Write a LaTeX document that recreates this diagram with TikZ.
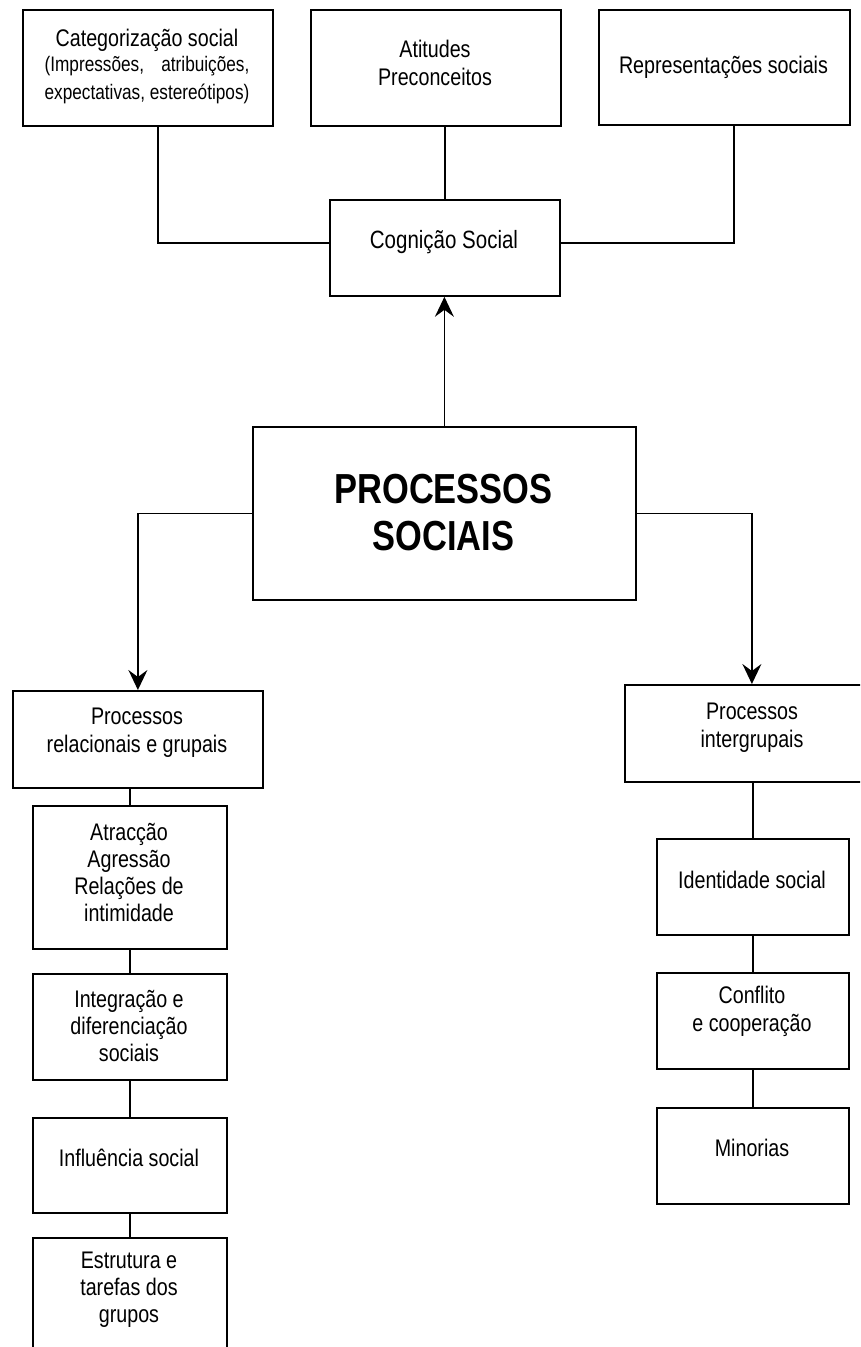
\documentclass[tikz,border=0pt]{standalone}
\usepackage{fontspec}
\usepackage{calc}
\setmainfont{Liberation Sans}[FakeStretch=0.82]
\usetikzlibrary{arrows.meta}
\tikzset{
  box/.style={draw, line width=1.8pt, inner sep=0pt, anchor=north west},
  txt/.style={align=center, inner sep=0pt, font=\fontsize{24}{28}\selectfont},
  link/.style={line width=1.4pt},
  arr/.style={line width=1.4pt, -{Stealth[length=20pt,width=19pt,inset=7pt]}}
}
\begin{document}
\begin{tikzpicture}[x=1pt,y=-1pt]
\useasboundingbox (0,0) rectangle (860,1347);
\clip (0,0) rectangle (860,1347);
% boxes
\node[box, minimum width=250pt, minimum height=116pt] (cat) at (22,9) {};
\node[box, minimum width=250pt, minimum height=116pt] (ati) at (310,9) {};
\node[box, minimum width=251pt, minimum height=115pt] (rep) at (598,9) {};
\node[box, minimum width=230pt, minimum height=96pt] (cog) at (329,199) {};
\node[box, minimum width=383pt, minimum height=173pt] (proc) at (252,426) {};
\node[box, minimum width=250pt, minimum height=97pt] (rel) at (12,690) {};
\node[box, minimum width=194pt, minimum height=143pt] (atr) at (32,805) {};
\node[box, minimum width=194pt, minimum height=106pt] (int) at (32,973) {};
\node[box, minimum width=194pt, minimum height=95pt] (inf) at (32,1117) {};
\node[box, minimum width=194pt, minimum height=140pt] (est) at (32,1237) {};
\node[box, minimum width=254pt, minimum height=97pt] (igp) at (624,684) {};
\node[box, minimum width=192pt, minimum height=96pt] (ide) at (656,838) {};
\node[box, minimum width=192pt, minimum height=96pt] (con) at (656,972) {};
\node[box, minimum width=192pt, minimum height=96pt] (min) at (656,1107) {};
% texts
\node[txt] (cat-t) at (147,66) {Categorização social\\[-3pt]
  \fontsize{21}{24}\selectfont\makebox[\widthof{expectativas, estereótipos)}][s]{(Impressões, atribuições,}\\
  \fontsize{21}{24}\selectfont expectativas, estereótipos)};
\node[txt] (ati-t) at (435,63) {Atitudes\\Preconceitos};
\node[txt] (rep-t) at (723.5,67) {Representações sociais};
\node[txt, font=\fontsize{25}{29}\selectfont] (cog-t) at (444,242) {Cognição Social};
\node[txt, font=\fontsize{42}{47}\selectfont\bfseries] (proc-t) at (443.5,513) {PROCESSOS\\SOCIAIS};
\node[txt] (rel-t) at (137,733) {Processos\\relacionais e grupais};
\node[txt, font=\fontsize{24}{27}\selectfont] (atr-t) at (129,872) {Atracção\\Agressão\\Relações de\\intimidade};
\node[txt, font=\fontsize{24}{27}\selectfont] (int-t) at (129,1026) {Integração e\\diferenciação\\sociais};
\node[txt] (inf-t) at (129,1158) {Influência social};
\node[txt, font=\fontsize{24}{27}\selectfont] (est-t) at (129,1290) {Estrutura e\\tarefas dos\\grupos};
\node[txt] (igp-t) at (752,728) {Processos\\intergrupais};
\node[txt] (ide-t) at (752,880) {Identidade social};
\node[txt] (con-t) at (752,1011) {Conflito\\e cooperação};
\node[txt] (min-t) at (752,1148) {Minorias};
% connectors
\draw[link] ([xshift=10pt]cat.south) |- ([yshift=5pt]cog.west);
\draw[link] (cog.north) -- (cog.north |- ati.south);
\draw[link] ([yshift=5pt]cog.east) -| ([xshift=9.5pt]rep.south);
\draw[arr] (proc.north) -- (proc.north |- cog.south);
\draw[arr] (proc.west) -| (rel.north);
\draw[arr] (proc.east) -| (igp.north);
\draw[link] (atr.north) -- (atr.north |- rel.south);
\draw[link] (int.north) -- (atr.south);
\draw[link] (inf.north) -- (int.south);
\draw[link] (est.north) -- (inf.south);
\draw[link] (ide.north) -- (ide.north |- igp.south);
\draw[link] (con.north) -- (ide.south);
\draw[link] (min.north) -- (con.south);
\end{tikzpicture}
\end{document}
